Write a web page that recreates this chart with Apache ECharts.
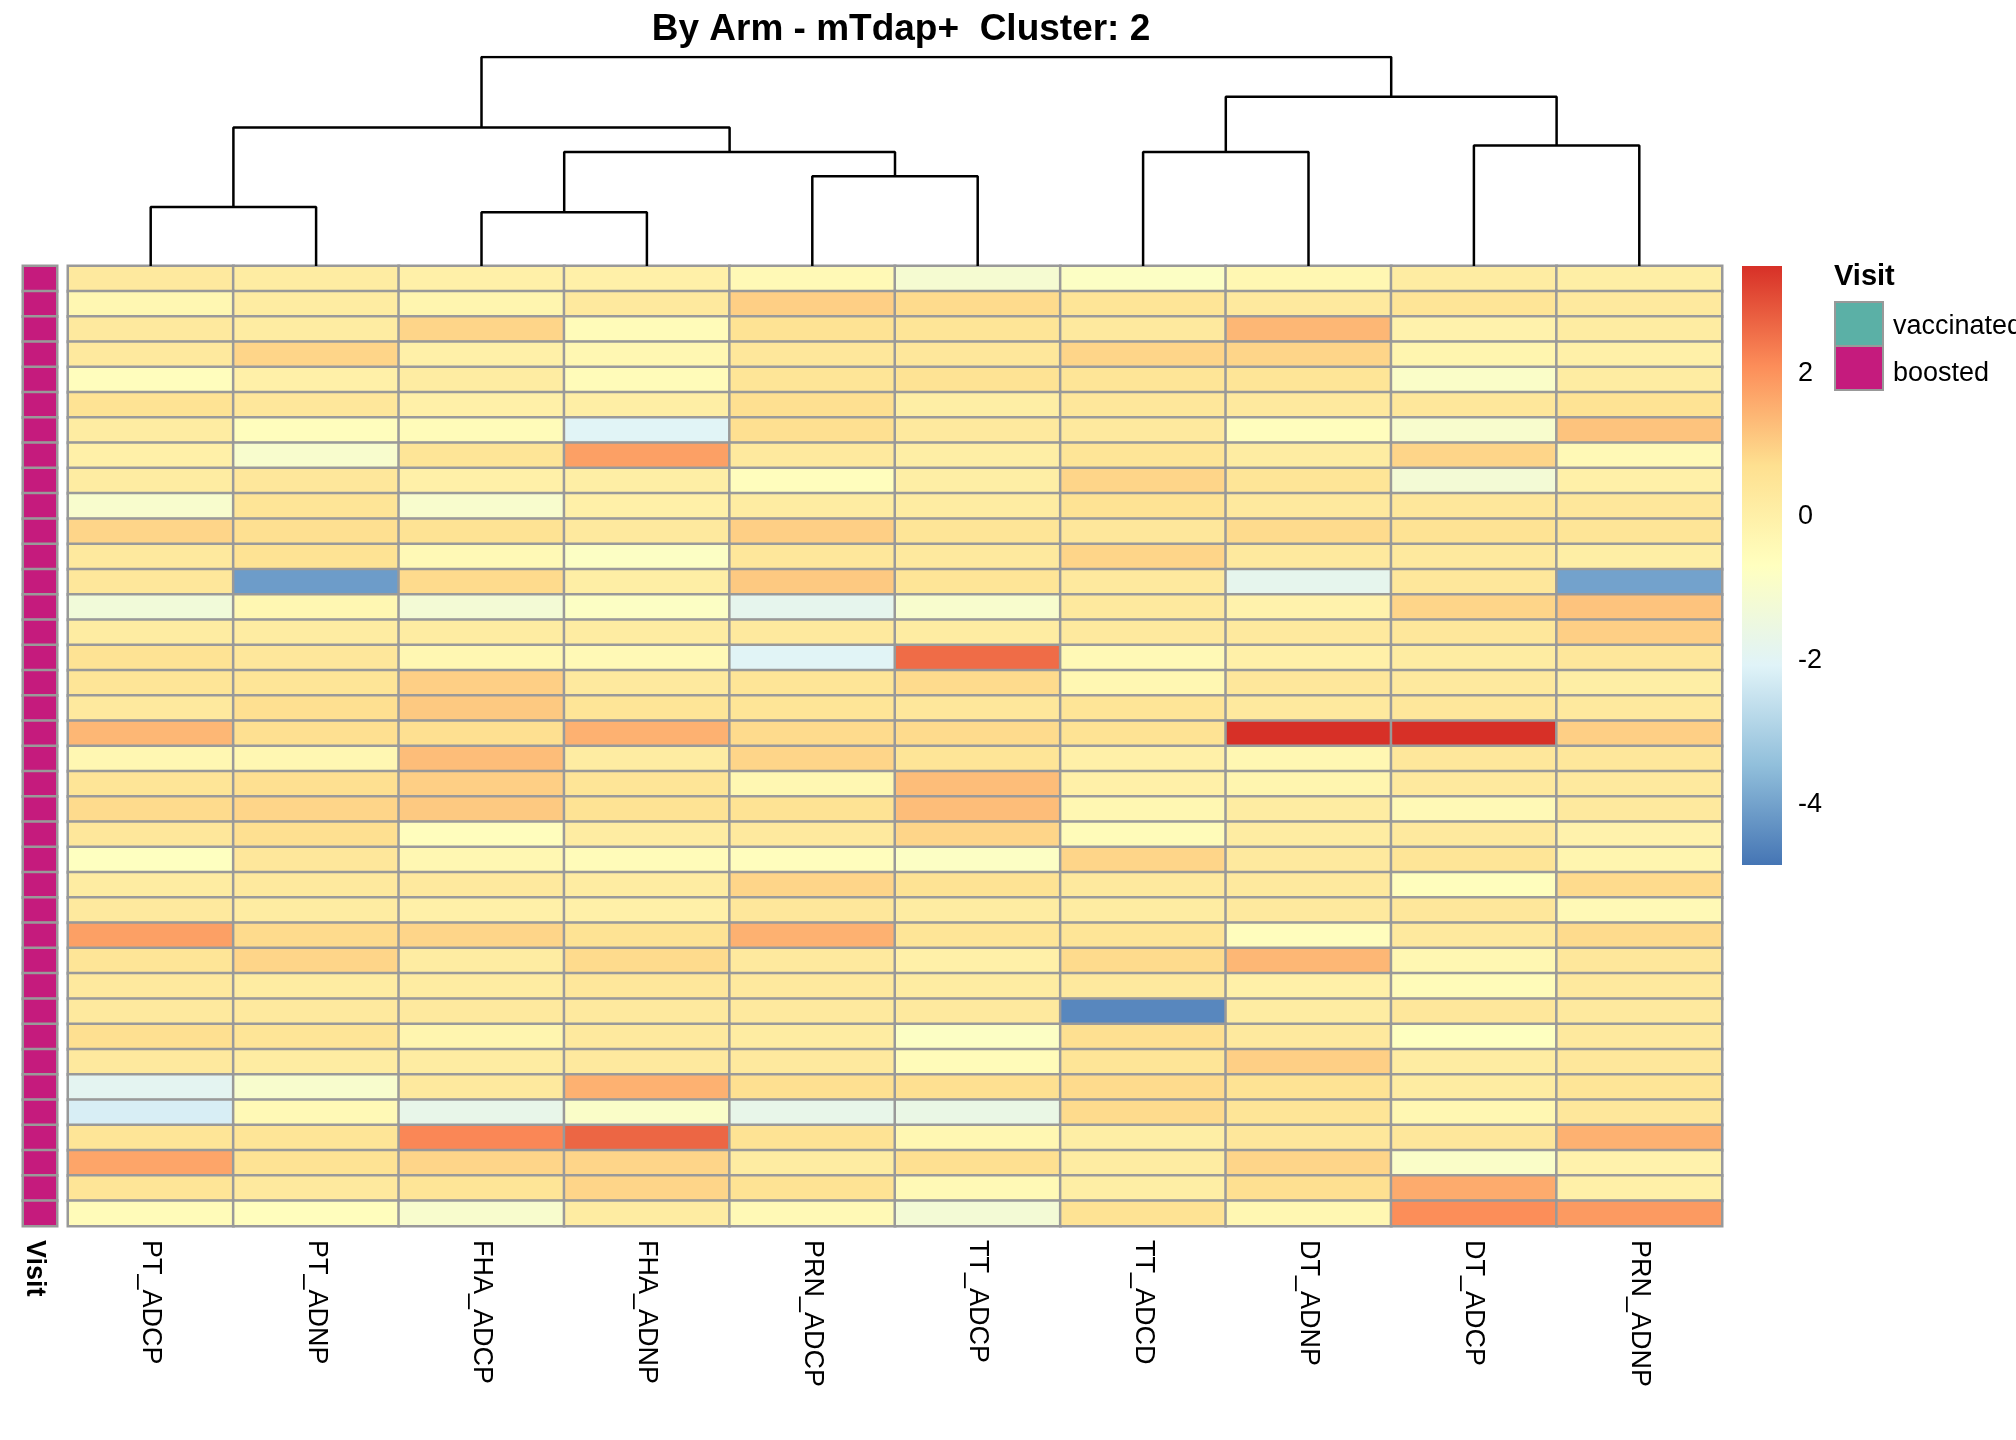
<!DOCTYPE html>
<html><head><meta charset="utf-8">
<script src="https://cdn.jsdelivr.net/npm/echarts@6/dist/echarts.min.js"></script>
<style>html,body{margin:0;background:#fff}#chart{width:2016px;height:1440px}</style>
</head><body><div id="chart"></div>
<script>
const columns = ["PT_ADCP","PT_ADNP","FHA_ADCP","FHA_ADNP","PRN_ADCP","TT_ADCP","TT_ADCD","DT_ADNP","DT_ADCP","PRN_ADNP"];
const rows = [
  [0.3,0.2,0,0,-0.4,-1.1,-0.8,-0.3,0.2,0.1],
  [-0.3,0.2,-0.2,0.3,1.0,0.8,0.5,0.3,0.5,0.3],
  [0.3,0.2,0.9,-0.5,0.6,0.5,0.3,1.4,-0.1,0.2],
  [0.3,0.9,0,-0.3,0.4,0.4,0.9,0.9,-0.2,0],
  [-0.6,0,0.2,-0.5,0.5,0.6,0.5,0.5,-0.9,0.2],
  [0.6,0.4,0,0.1,0.7,0.1,0.4,0.3,0.4,0.6],
  [0.2,-0.6,-0.5,-2.0,0.7,0.3,0.3,-0.6,-1.0,1.2],
  [0,-1.0,0.5,1.8,0.3,0.1,0.5,0.2,0.9,-0.4],
  [0.2,0.4,0,0.1,-0.6,0.1,0.9,0.5,-1.2,0],
  [-1.0,0.5,-1.0,0,0.2,0.2,0.6,0.3,0.4,0.4],
  [0.9,0.7,0.6,0.3,1.0,0.5,0.4,0.8,0.6,0.5],
  [0.3,0.6,-0.4,-0.8,0.4,0.3,0.9,0.3,0.3,0.1],
  [0.4,-4.1,0.8,0.1,1.1,0.5,0.3,-1.8,0.4,-4.0],
  [-1.3,-0.3,-1.2,-0.8,-1.8,-1.0,0.3,-0.1,0.9,1.2],
  [0.2,0.2,0.2,0.2,0.3,0.2,0.3,0.3,0.4,1.0],
  [0.6,0.4,-0.3,-0.4,-2.0,2.6,-0.4,0,0.2,0.4],
  [0.5,0.5,1.0,0.3,0.5,0.8,-0.3,0.4,0.3,0.1],
  [0.3,0.7,1.1,0.5,0.5,0.4,0.5,0.3,0.4,0.3],
  [1.4,0.7,0.7,1.5,0.8,0.8,0.6,3.5,3.5,1.0],
  [-0.3,-0.3,1.3,0.2,0.9,0.5,0,-0.3,0.4,0.4],
  [0.5,0.7,1.0,0.5,-0.3,1.3,0,-0.2,0.3,0.3],
  [0.8,0.9,1.1,0.6,0.6,1.3,-0.3,0.2,-0.4,0.3],
  [0.4,0.7,-0.6,0.2,0.3,0.9,-0.5,0.2,0.3,-0.1],
  [-0.7,0.4,-0.3,-0.5,-0.6,-0.8,0.9,0.3,0.5,-0.2],
  [0.2,0.3,0.3,0.2,0.9,0.6,0.3,0.3,-0.6,0.8],
  [0.3,0.2,0,0,0.4,0.2,0.2,0.3,0.4,-0.4],
  [1.8,0.8,0.9,0.6,1.5,0.5,0.5,-0.6,0.3,0.8],
  [0.5,0.9,0.2,0.8,0.3,0,0.8,1.4,-0.3,0.4],
  [0.3,0.2,0.2,0.4,0.3,0.2,0.3,0,-0.5,0.3],
  [0.3,0.3,0.3,0.3,0.3,0.3,-4.5,0.2,0.4,0.3],
  [0.7,0.5,-0.2,0.3,0.2,-0.8,0.7,0.3,-0.7,0.3],
  [0.3,0.2,0.2,0.3,0.3,-0.5,0.5,1.0,0.2,0.4],
  [-1.9,-1.0,0.3,1.5,0.7,0.7,0.8,0.6,0.2,0.5],
  [-2.2,-0.4,-1.7,-0.9,-1.7,-1.6,0.8,0.5,-0.3,0.4],
  [0.5,0.5,2.2,2.7,0.6,-0.3,0.1,0.4,0.4,1.5],
  [1.7,0.6,0.9,0.9,0.2,0.7,0.2,0.9,-0.9,-0.1],
  [0.5,0.3,0.5,0.9,0.6,-0.4,0.1,0.7,1.6,0],
  [-0.5,-0.6,-1.0,0.2,-0.4,-1.2,0.6,-0.3,2.1,1.9]
];
// dendrogram merges: [leftX, leftH, rightX, rightH, height]
const merges = [
  [0,0,1,0,46],[2,0,3,0,42],[4,0,5,0,70],[2.5,42,4.5,70,89],[0.5,46,3.5,89,108],
  [6,0,7,0,89],[8,0,9,0,94],[6.5,89,8.5,94,132],[2,108,7.5,132,163]
];
const colorTicks = [2,0,-2,-4];
const vmin = -4.84, vmax = 3.5;
const palette = ['#4575B4','#91BFDB','#E0F3F8','#FFFFBF','#FEE090','#FC8D59','#D73027'];

const L = 68, R = 2016-1722, T = 266, B = 1440-1226;
const heat = [];
rows.forEach((r, i) => r.forEach((v, j) => heat.push([j, i, v])));
const visit = rows.map((r, i) => [0, i, 1]);
const rowIdx = rows.map((r, i) => String(i));

const dendroSeries = merges.map(m => ({
  type: 'line', xAxisIndex: 2, yAxisIndex: 2, symbol: 'none', silent: true,
  lineStyle: { color: '#000', width: 2.5 },
  data: [[m[0], m[1]], [m[0], m[4]], [m[2], m[4]], [m[2], m[3]]]
}));

const chart = echarts.init(document.getElementById('chart'));
const barTop = 266, barBot = 865;
const yOf = v => barTop + (vmax - v) / (vmax - vmin) * (barBot - barTop);
const graphics = [
  { type: 'rect', shape: { x: 1742, y: barTop, width: 40, height: barBot - barTop },
    style: { fill: new echarts.graphic.LinearGradient(0, 1, 0, 0,
      palette.map((c, i) => ({ offset: i / (palette.length - 1), color: c }))) } },
  { type: 'text', left: 1834, top: 262, style: { text: 'Visit', font: 'bold 29px "Liberation Sans"', fill: '#000' } },
  { type: 'rect', shape: { x: 1835, y: 302, width: 48, height: 44 }, style: { fill: '#5BB0A6', stroke: '#999', lineWidth: 2 } },
  { type: 'rect', shape: { x: 1835, y: 346, width: 48, height: 44 }, style: { fill: '#C51B7D', stroke: '#999', lineWidth: 2 } },
  { type: 'text', left: 1893, top: 313, style: { text: 'vaccinated', font: '27px "Liberation Sans"', fill: '#000' } },
  { type: 'text', left: 1893, top: 360, style: { text: 'boosted', font: '27px "Liberation Sans"', fill: '#000' } },
  { type: 'text', x: 48, y: 1240, rotation: -Math.PI / 2,
    style: { text: 'Visit', font: 'bold 27px "Liberation Sans"', fill: '#000' } }
];
colorTicks.forEach(t => graphics.push({ type: 'text', x: 1798, y: yOf(t) - 14,
  style: { text: String(t), font: '27px "Liberation Sans"', fill: '#000' } }));

chart.setOption({
  animation: false,
  title: { text: 'By Arm - mTdap+  Cluster: 2', left: 896, textAlign: 'center', top: 6,
    textStyle: { fontFamily: 'Liberation Sans', fontWeight: 'bold', fontSize: 37, color: '#000' } },
  grid: [
    { left: L, right: R, top: T, bottom: B },
    { left: 23, width: 34, top: T, bottom: B },
    { left: L, right: R, top: 57, height: 209 }
  ],
  xAxis: [
    { type: 'category', gridIndex: 0, data: columns, axisLine: { show: false }, axisTick: { show: false },
      axisLabel: { rotate: -90, fontFamily: 'Liberation Sans', fontSize: 27, color: '#000', margin: 14 } },
    { type: 'category', gridIndex: 1, data: ['Visit'], show: false },
    { type: 'value', gridIndex: 2, min: -0.5, max: 9.5, show: false }
  ],
  yAxis: [
    { type: 'category', gridIndex: 0, data: rowIdx, inverse: true, show: false },
    { type: 'category', gridIndex: 1, data: rowIdx, inverse: true, show: false },
    { type: 'value', gridIndex: 2, min: 0, max: 163, show: false }
  ],
  visualMap: { show: false, seriesIndex: 0, min: vmin, max: vmax, inRange: { color: palette } },
  series: [
    { type: 'heatmap', xAxisIndex: 0, yAxisIndex: 0, data: heat,
      itemStyle: { borderColor: '#999', borderWidth: 2.5 } },
    { type: 'heatmap', xAxisIndex: 1, yAxisIndex: 1, data: visit,
      itemStyle: { color: '#C51B7D', borderColor: '#999', borderWidth: 2.5 } }
  ].concat(dendroSeries),
  graphic: graphics
});
</script></body></html>
